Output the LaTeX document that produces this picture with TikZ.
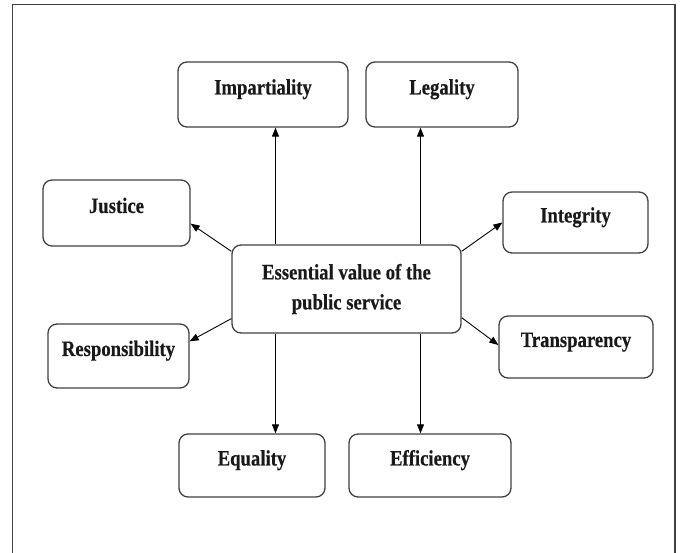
\documentclass[tikz,border=0pt]{standalone}
\usepackage{fontspec}
\setmainfont[FakeStretch=0.85]{Liberation Serif}
\newfontfamily\boxfont[FakeStretch=0.85, FakeBold=0.4]{Liberation Serif Bold}
\usetikzlibrary{arrows.meta}

\begin{document}
\begin{tikzpicture}[x=1pt, y=1pt,
		value/.style={draw=black!75, line width=1.3pt, rounded corners=9pt, inner sep=0pt,
			font=\boxfont\fontsize{22}{30}\selectfont, text=black!90, text height=15pt, text depth=15pt},
		core/.style={draw=black!75, line width=1.3pt, rounded corners=9pt, inner sep=0pt, align=center,
			font=\boxfont\fontsize{22}{30}\selectfont, text=black!90, minimum width=229pt, minimum height=88pt},
		link/.style={-{Stealth[length=9pt, width=7pt, inset=0pt]}, line width=0.9pt}]
				\useasboundingbox (0,0) rectangle (681,553);
				\draw[black!75, line width=1.6pt] (12.5,0) -- (12.5,548.5) -- (675,548.5) -- (675,0);
				
				\node[core] (centre) at (346.5,264) {Essential value of the \\ public service};
				\node[value, minimum width=170pt, minimum height=65pt] (imp) at (263,458.5) {Impartiality};
				\node[value, minimum width=152pt, minimum height=65pt] (leg) at (442,458.5) {Legality};
				\node[value, minimum width=147pt, minimum height=66pt] (jus) at (116.5,340) {Justice};
				\node[value, minimum width=141pt, minimum height=64pt] (res) at (118.5,197) {Responsibility};
				\node[value, minimum width=145pt, minimum height=61pt] (int) at (575.5,330.5) {Integrity};
				\node[value, minimum width=154pt, minimum height=62pt] (tra) at (576,206) {Transparency};
				\node[value, minimum width=146pt, minimum height=63pt] (equ) at (252,87.5) {Equality};
				\node[value, minimum width=162pt, minimum height=63pt] (eff) at (430,87.5) {Efficiency};
				
				\path[link]
				([xshift=-71pt]centre.north) edge ([xshift=-71pt]centre.north |- imp.south)
				([xshift=74pt]centre.north) edge ([xshift=74pt]centre.north |- leg.south)
				([xshift=-71pt]centre.south) edge ([xshift=-71pt]centre.south |- equ.north)
				([xshift=74pt]centre.south) edge ([xshift=74pt]centre.south |- eff.north)
				([yshift=-7pt]centre.north west) edge ([yshift=23pt]jus.south east)
				([yshift=15pt]centre.south west) edge ([yshift=-18pt]res.north east)
				([yshift=-7pt]centre.north east) edge (int.west)
				([yshift=16pt]centre.south east) edge ([yshift=2pt]tra.west)
				;
			\end{tikzpicture}
\end{document}
